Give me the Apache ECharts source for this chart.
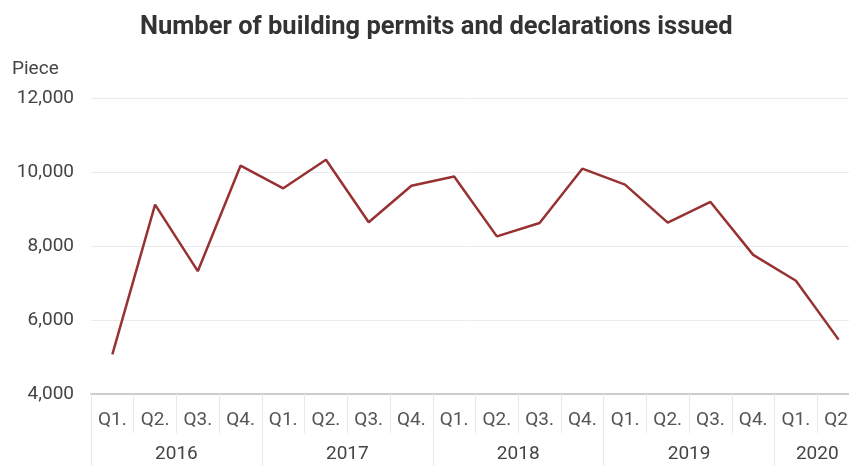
<!DOCTYPE html>
<html>
<head>
<meta charset="utf-8">
<script src="https://cdn.jsdelivr.net/npm/echarts@6/dist/echarts.min.js"></script>
<style>html,body{margin:0;padding:0;background:#fff;}#chart{width:849px;height:466px;}</style>
</head>
<body>
<div id="chart"></div>
<script>
var quarters = ['Q1.','Q2.','Q3.','Q4.','Q1.','Q2.','Q3.','Q4.','Q1.','Q2.','Q3.','Q4.','Q1.','Q2.','Q3.','Q4.','Q1.','Q2.'];
var years = ['2016','2017','2018','2019','2020'];
var quartersPerYear = [4,4,4,4,2];
var permits = [5070,9120,7320,10170,9560,10330,8640,9630,9880,8260,8620,10090,9660,8630,9190,7760,7060,5470];
var yTicks = [4000,6000,8000,10000,12000];

// Build half-step axis for year group labels and separators
var halfSlots = [];
var halfTickIdx = {};
var halfLabelIdx = {};
var pos = 0;
halfTickIdx[0] = true;
for (var i = 0; i < years.length; i++) {
  var span = quartersPerYear[i] * 2;
  halfLabelIdx[pos + span / 2] = years[i];
  pos += span;
  halfTickIdx[pos] = true;
}
for (var k = 0; k <= pos; k++) halfSlots.push(halfLabelIdx[k] || '');

var chart = echarts.init(document.getElementById('chart'));
var font = 'Roboto, "Noto Sans", sans-serif';
chart.setOption({
  animation: false,
  title: [{
    text: 'Number of building permits and declarations issued',
    left: 135, top: 10,
    textStyle: {fontFamily: font, fontWeight: 'bold', fontSize: 25.5, color: '#333'}
  }, {
    text: 'Piece', left: 7, top: 55,
    textStyle: {fontFamily: font, fontWeight: 'normal', fontSize: 19, color: '#444'}
  }],
  grid: {left: 91, width: 769, top: 98, bottom: 72, containLabel: false, outerBoundsMode: 'none'},
  xAxis: [{
    type: 'category',
    data: quarters,
    boundaryGap: true,
    axisLine: {show: true, lineStyle: {color: '#cccccc', width: 2}},
    axisTick: {show: true, interval: 0, length: 39, lineStyle: {color: '#e8e8e8'}},
    axisLabel: {interval: 0, margin: 17, fontFamily: font, fontSize: 19, color: '#555'},
    splitLine: {show: false}
  }, {
    type: 'category',
    position: 'bottom',
    offset: 39,
    data: halfSlots,
    boundaryGap: false,
    axisLine: {show: false},
    axisTick: {show: true, length: 40, lineStyle: {color: '#e8e8e8'},
      interval: function (idx) { return !!halfTickIdx[idx]; }},
    axisLabel: {margin: 12, fontFamily: font, fontSize: 19, color: '#444',
      interval: function (idx) { return !!halfLabelIdx[idx]; }},
    splitLine: {show: false}
  }],
  yAxis: {
    type: 'value',
    min: yTicks[0], max: yTicks[yTicks.length - 1], interval: 2000,
    axisLine: {show: false},
    axisTick: {show: false},
    axisLabel: {margin: 17, fontFamily: font, fontSize: 19, color: '#444',
      formatter: function (v) { return v.toLocaleString('en-US'); }},
    splitLine: {lineStyle: {color: '#ebebeb', width: 1}}
  },
  series: [{
    type: 'line',
    xAxisIndex: 0,
    data: permits,
    symbol: 'none',
    lineStyle: {color: '#983232', width: 2.5},
    itemStyle: {color: '#983232'}
  }]
});
</script>
</body>
</html>
